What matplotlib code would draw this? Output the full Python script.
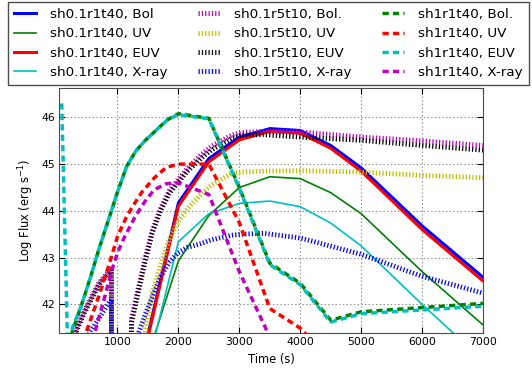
import matplotlib
matplotlib.use("Agg")
import matplotlib.pyplot as plt

# sh0.1r1t40 (solid)
t_a = [1500, 2000, 2500, 3000, 3500, 4000, 4500, 5000, 6000, 7000]
a_bol = [41.35, 44.17, 45.12, 45.58, 45.76, 45.72, 45.40, 44.92, 43.68, 42.58]
a_uv = [40.9, 42.93, 43.9, 44.5, 44.73, 44.69, 44.39, 43.94, 42.70, 41.56]
a_euv = [41.3, 44.10, 45.05, 45.52, 45.70, 45.66, 45.34, 44.85, 43.60, 42.50]
a_xray = [40.7, 43.34, 43.94, 44.16, 44.21, 44.09, 43.74, 43.25, 42.0, 40.8]

# sh0.1r5t10 (dotted)
t_b = [250, 350, 450, 550, 700, 850, 900, 905, 1180, 1230, 1350, 1460, 1570,
       1710, 1850, 1990, 2150, 2370, 2540, 2870, 3030, 3400, 4000, 5000, 6000, 7000]
b_bol = [41.2, 41.55, 41.85, 42.1, 42.47, 42.7, 42.76, 30, 36, 41.7, 42.4, 43.02, 43.58,
         44.07, 44.43, 44.66, 44.92, 45.2, 45.38, 45.62, 45.68, 45.7, 45.69, 45.58, 45.50, 45.40]
b_uv = [39.5, 39.8, 40.1, 40.3, 40.6, 40.8, 40.85, 30, 36, 39.0, 40.3, 41.45, 42.25,
        42.85, 43.4, 43.75, 44.05, 44.35, 44.55, 44.8, 44.83, 44.85, 44.86, 44.83, 44.76, 44.71]
b_euv = [41.15, 41.5, 41.8, 42.05, 42.43, 42.66, 42.72, 30, 36, 41.6, 42.31, 42.95, 43.52,
         44.01, 44.37, 44.6, 44.85, 45.12, 45.3, 45.55, 45.62, 45.63, 45.58, 45.51, 45.40, 45.30]
b_xray = [40.3, 40.7, 41.05, 41.42, 41.7, 42.02, 42.1, 30, 36, 40.4, 41.4, 41.8, 42.15,
          42.6, 42.9, 43.1, 43.22, 43.3, 43.38, 43.48, 43.5, 43.52, 43.42, 43.07, 42.6, 42.24]

# sh1r1t40 (dashed)
t_c_bol = [200, 250, 400, 550, 700, 850, 1000, 1150, 1300, 1450, 1630, 1820, 2000,
           2500, 3000, 3500, 4000, 4500, 5000, 6000, 7000]
c_bol = [41.1, 41.38, 41.95, 42.55, 43.2, 43.8, 44.4, 44.95, 45.28, 45.5, 45.72, 45.95, 46.08,
         45.98, 44.5, 42.88, 42.45, 41.66, 41.84, 41.93, 42.02]
t_c_euv = [85, 230, 260, 400, 550, 700, 850, 1000, 1150, 1300, 1450, 1630, 1820, 2000,
           2500, 3000, 3500, 4000, 4500, 5000, 6000, 7000]
c_euv = [46.3, 38.5, 41.5, 41.95, 42.55, 43.2, 43.8, 44.4, 44.95, 45.28, 45.5, 45.72, 45.95, 46.06,
         45.97, 44.48, 42.85, 42.42, 41.62, 41.8, 41.88, 41.96]
t_c_uv = [400, 500, 700, 850, 1000, 1150, 1300, 1400, 1600, 1800, 2000, 2500, 3000, 3500, 4000, 4500]
c_uv = [41.0, 41.45, 42.2, 42.8, 43.45, 43.88, 44.2, 44.4, 44.7, 44.93, 45.0, 45.0, 43.75, 41.91, 41.49, 40.8]
t_c_xray = [550, 700, 800, 900, 1000, 1100, 1200, 1300, 1450, 1600, 1800, 2000, 2500, 3000, 3500]
c_xray = [41.0, 41.75, 42.2, 42.7, 43.1, 43.4, 43.65, 43.9, 44.2, 44.45, 44.58, 44.6, 44.35, 42.7, 41.3]

plt.rcParams['lines.scale_dashes'] = False
dot = (0, (0.9, 1.5))
dash = (0, (4.5, 3))

fig = plt.figure(figsize=(5.32, 3.71), dpi=100)
ax = fig.add_axes([59 / 532, 1 - 333.3 / 371, 424 / 532, 245.8 / 371])

ax.plot(t_a, a_bol, color='b', lw=2.2, label='sh0.1r1t40, Bol')
ax.plot(t_a, a_uv, color='g', lw=1.2, label='sh0.1r1t40, UV')
ax.plot(t_a, a_euv, color='r', lw=2.2, label='sh0.1r1t40, EUV')
ax.plot(t_a, a_xray, color='c', lw=1.2, label='sh0.1r1t40, X-ray')

ax.plot(t_b, b_bol, color='m', lw=3.5, ls=dot, label='sh0.1r5t10, Bol.')
ax.plot(t_b, b_uv, color='y', lw=3.5, ls=dot, label='sh0.1r5t10, UV')
ax.plot(t_b, b_euv, color='k', lw=3.5, ls=dot, label='sh0.1r5t10, EUV')
ax.plot(t_b, b_xray, color='b', lw=3.5, ls=dot, label='sh0.1r5t10, X-ray')

ax.plot(t_c_bol, c_bol, color='g', lw=2.5, ls=dash, label='sh1r1t40, Bol.')
ax.plot(t_c_uv, c_uv, color='r', lw=2.5, ls=dash, label='sh1r1t40, UV')
ax.plot(t_c_euv, c_euv, color='c', lw=2.5, ls=dash, label='sh1r1t40, EUV')
ax.plot(t_c_xray, c_xray, color='m', lw=2.5, ls=dash, label='sh1r1t40, X-ray')

ax.set_xlim(40, 7000)
ax.set_ylim(41.38, 46.64)
ax.set_xticks([1000, 2000, 3000, 4000, 5000, 6000, 7000])
ax.set_yticks([42, 43, 44, 45, 46])
ax.grid(True, color='0.55', ls=':', lw=0.8)
ax.tick_params(direction='in', top=True, right=True, length=4, width=0.8, labelsize=7.8, pad=3)
for s in ax.spines.values():
    s.set_color('0.3')
ax.set_xlabel('Time (s)', fontsize=8.3, labelpad=4)
ax.set_ylabel(r'Log Flux (erg s$^{-1}$)', fontsize=8.3, labelpad=4)

leg = ax.legend(loc='upper left', bbox_to_anchor=(8 / 532, 1 - 2 / 371), bbox_transform=fig.transFigure,
                borderaxespad=0, ncol=3, fontsize=9.7, handlelength=1.65, handletextpad=1.04,
                columnspacing=2.24, labelspacing=0.47, borderpad=0.45, fancybox=False,
                framealpha=1, edgecolor='0.3')
leg.get_frame().set_linewidth(1.0)

fig.savefig('out.png', dpi=100)
